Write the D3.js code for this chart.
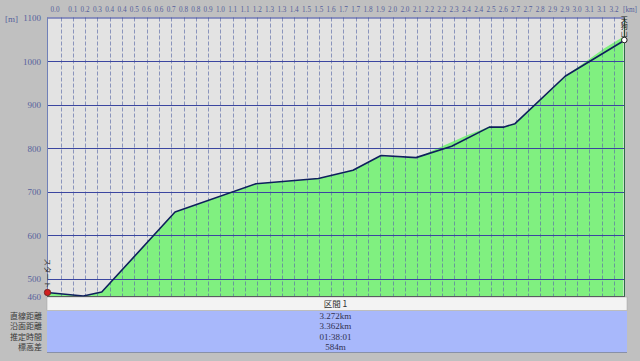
<!DOCTYPE html>
<html><head><meta charset="utf-8">
<script src="https://cdn.jsdelivr.net/npm/d3@7/dist/d3.min.js"></script>
<style>
html,body{margin:0;padding:0;background:#c0c0c0;}
svg{display:block;}
</style></head>
<body>
<script>
// ---- data ----
const xTickLabels = ["0.0","0.1","0.2","0.3","0.4","0.4","0.5","0.6","0.6","0.7","0.8","0.8","0.9","1.0","1.1","1.1","1.2","1.3","1.3","1.4","1.5","1.5","1.6","1.7","1.7","1.8","1.9","2.0","2.0","2.1","2.2","2.2","2.3","2.4","2.4","2.5","2.6","2.7","2.7","2.8","2.9","2.9","3.0","3.1","3.1","3.2"];
const yTickValues = [460, 500, 600, 700, 800, 900, 1000, 1100];
const routeKm   = [0, 0.2115, 0.319, 0.746, 1.218, 1.581, 1.783, 1.946, 2.150, 2.358, 2.577, 2.659, 2.727, 3.019, 3.358];
const routeElev = [468, 460, 469, 653, 718, 730, 749, 783, 778, 804, 848, 848, 856, 965, 1046];
const terrainKm   = [0, 0.2115, 0.319, 0.746, 1.218, 1.581, 1.783, 1.946, 2.150, 2.25, 2.45, 2.577, 2.659, 2.727, 3.019, 3.25, 3.358];
const terrainElev = [468, 460, 469, 653, 718, 730, 749, 782, 776, 795, 830, 849, 848, 856, 965, 1030, 1056];
const tableHeader = "区間 1";
const rowLabels = ["直線距離", "沿面距離", "推定時間", "標高差"];
const rowValues = ["3.272km", "3.362km", "01:38:01", "584m"];
const startLabel = "スタート";
const endLabel = "天狗山";
const totalKm = 3.362;

// ---- layout ----
const W = 640, H = 361;
const L = 47, R = 624, T = 17.5, B = 296;
const svg = d3.select("body").append("svg").attr("width", W).attr("height", H);
svg.append("rect").attr("width", W).attr("height", H).attr("fill", "#c0c0c0");

const x = d3.scaleLinear().domain([0, totalKm]).range([L, R]);
const y = d3.scaleLinear().domain([460, 1100]).range([B, T]);
const gx = d3.scalePoint().domain(d3.range(xTickLabels.length)).range([60.5, 614]);

const numFont = "'Liberation Serif', 'DejaVu Serif', serif";
const jpFont = "'Noto Sans CJK JP', sans-serif";

// plot background
svg.append("rect").attr("x", L).attr("y", T).attr("width", R - L).attr("height", B - T).attr("fill", "#e3e3e3");

// terrain fill
const area = d3.area().x((d, i) => x(terrainKm[i])).y0(B).y1((d) => y(d));
svg.append("path").datum(terrainElev).attr("d", area).attr("fill", "#80f080");

// vertical dashed gridlines
svg.append("g").selectAll("line").data(d3.range(xTickLabels.length)).join("line")
  .attr("x1", d => Math.round(gx(d)) + 0.5).attr("x2", d => Math.round(gx(d)) + 0.5)
  .attr("y1", T).attr("y2", B)
  .attr("stroke", "#5a6aa8").attr("stroke-opacity", 0.65).attr("stroke-width", 1)
  .attr("stroke-dasharray", "4,2");

// horizontal gridlines
svg.append("g").selectAll("line").data(yTickValues.filter(v => v > 460 && v < 1100)).join("line")
  .attr("x1", L).attr("x2", R)
  .attr("y1", d => Math.round(y(d)) + 0.5).attr("y2", d => Math.round(y(d)) + 0.5)
  .attr("stroke", "#3b46a0").attr("stroke-width", 1);

// borders
svg.append("line").attr("x1", L).attr("x2", R).attr("y1", T + 0.5).attr("y2", T + 0.5).attr("stroke", "#3b46a0");
svg.append("line").attr("x1", L + 0.5).attr("x2", L + 0.5).attr("y1", T).attr("y2", B).attr("stroke", "#7080b8");
svg.append("line").attr("x1", R + 0.5).attr("x2", R + 0.5).attr("y1", T).attr("y2", B).attr("stroke", "#2f6a4a");
svg.append("line").attr("x1", L).attr("x2", R + 1).attr("y1", B + 0.5).attr("y2", B + 0.5).attr("stroke", "#404848").attr("stroke-width", 1.2);

// route line
const line = d3.line().x((d, i) => x(routeKm[i])).y(d => y(d));
svg.append("path").datum(routeElev).attr("d", line).attr("fill", "none")
  .attr("stroke", "#0e1f5c").attr("stroke-width", 1.6).attr("stroke-linejoin", "round");

// x tick labels
svg.append("g").selectAll("text").data(xTickLabels).join("text")
  .attr("x", (d, i) => (i === 0 ? 55 : gx(i)) - 4.5).attr("y", 12)
  .attr("font-family", numFont).attr("font-size", 8.5)
  .attr("textLength", 9).attr("lengthAdjust", "spacingAndGlyphs")
  .attr("fill", "#56609c").text(d => d);
svg.append("text").attr("x", 623).attr("y", 12).attr("font-family", numFont).attr("font-size", 8.5)
  .attr("textLength", 14).attr("lengthAdjust", "spacingAndGlyphs")
  .attr("fill", "#56609c").text("[km]");

// y tick labels
svg.append("g").selectAll("text").data(yTickValues).join("text")
  .attr("x", 41).attr("y", d => y(d) + 3.5).attr("text-anchor", "end")
  .attr("font-family", numFont).attr("font-size", 9).attr("fill", "#56609c").text(d => d);
svg.append("text").attr("x", 5).attr("y", 22).attr("font-family", numFont).attr("font-size", 9)
  .attr("fill", "#56609c").text("[m]");

// start marker
svg.append("text").attr("transform", `translate(${x(0) - 2},${y(routeElev[0]) - 34}) rotate(90)`)
  .attr("font-family", jpFont).attr("font-size", 6.5)
  .attr("textLength", 30).attr("lengthAdjust", "spacingAndGlyphs")
  .attr("fill", "#303030").text(startLabel);
svg.append("circle").attr("cx", x(0) + 0.5).attr("cy", y(routeElev[0])).attr("r", 3.2)
  .attr("fill", "#d02020").attr("stroke", "#602020").attr("stroke-width", 0.8);

// end marker
const ex = x(routeKm[routeKm.length - 1]) + 1, ey = y(routeElev[routeElev.length - 1]);
svg.append("text").attr("x", ex).attr("y", ey - 25)
  .style("writing-mode", "vertical-rl")
  .attr("font-family", jpFont).attr("font-size", 7).attr("fill", "#202020").text(endLabel);
svg.append("circle").attr("cx", ex).attr("cy", ey - 1).attr("r", 2.8)
  .attr("fill", "#ffffff").attr("stroke", "#202020").attr("stroke-width", 1);

// table
svg.append("rect").attr("x", L).attr("y", 297).attr("width", 627 - L).attr("height", 13.5)
  .attr("fill", "#f3f3f3").attr("stroke", "#a0a0a0").attr("stroke-width", 0.5);
svg.append("text").attr("x", (L + R) / 2).attr("y", 307).attr("text-anchor", "middle")
  .attr("font-family", jpFont).attr("font-size", 8.5).attr("fill", "#303030").text(tableHeader);
svg.append("rect").attr("x", L).attr("y", 311).attr("width", 627 - L).attr("height", 41)
  .attr("fill", "#a8b8fb");
svg.append("line").attr("x1", L).attr("x2", 627).attr("y1", 352.5).attr("y2", 352.5).attr("stroke", "#8890a8");
svg.append("g").selectAll("text").data(rowValues).join("text")
  .attr("x", (L + R) / 2).attr("y", (d, i) => 319 + i * 10.3).attr("text-anchor", "middle")
  .attr("font-family", numFont).attr("font-size", 9).attr("fill", "#303050").text(d => d);
svg.append("g").selectAll("text").data(rowLabels).join("text")
  .attr("x", 42).attr("y", (d, i) => 319 + i * 10.3).attr("text-anchor", "end")
  .attr("font-family", jpFont).attr("font-size", 8).attr("fill", "#383838").text(d => d);
</script>
</body></html>
